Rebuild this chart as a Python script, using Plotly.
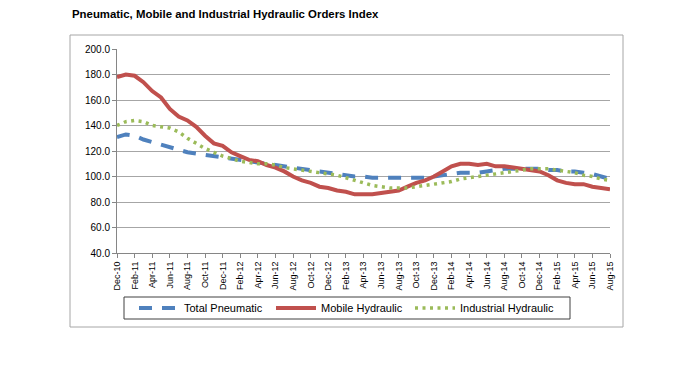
import plotly.graph_objects as go

mnames = ["Jan", "Feb", "Mar", "Apr", "May", "Jun", "Jul", "Aug", "Sep", "Oct", "Nov", "Dec"]
months = ["Dec-10"] + [f"{m}-{yr}" for yr in range(11, 16) for m in mnames]
months = months[:57]

total_pneumatic = [131, 133, 132, 129, 127, 125, 123, 121, 119, 118, 117, 116, 115,
                   114, 113, 112, 111, 110, 109, 108, 107, 106, 105, 104, 103,
                   102, 101, 100, 100, 99, 99, 99, 99, 99, 99, 99, 100,
                   101, 102, 103, 103, 103, 104, 105, 106, 106, 106, 106, 106,
                   105, 105, 104, 104, 103, 102, 100, 98]
mobile_hydraulic = [178, 180, 179, 174, 167, 162, 153, 147, 144, 139, 132, 126, 124,
                    119, 116, 113, 112, 109, 107, 104, 100, 97, 95, 92, 91,
                    89, 88, 86, 86, 86, 87, 88, 89, 92, 95, 97, 100,
                    104, 108, 110, 110, 109, 110, 108, 108, 107, 106, 105, 104,
                    101, 97, 95, 94, 94, 92, 91, 90]
industrial_hydraulic = [140, 143, 144, 143, 140, 139, 138, 135, 130, 126, 122, 119, 116,
                        114, 112, 111, 110, 110, 109, 107, 106, 105, 104, 103, 102,
                        101, 99, 97, 95, 93, 92, 91, 91, 91, 92, 93, 94,
                        95, 96, 98, 99, 100, 101, 102, 103, 104, 105, 106, 106,
                        106, 105, 104, 103, 101, 100, 98, 97]
tick_labels = months[::2]

# page body has an 8px margin; work in screen pixels and subtract it
OFF = 8
FW, FH = 700 - OFF, 365 - OFF
L, R, T, B = 117 - OFF, 610 - OFF, 49 - OFF, 253 - OFF
W, H = R - L, B - T
def px(x):
    return (x - OFF - L) / W
def py(y):
    return (B - (y - OFF)) / H

fig = go.Figure()
fig.add_trace(go.Scatter(x=months, y=total_pneumatic, name="Total Pneumatic", mode="lines",
                         legend="legend",
                         line=dict(color="#4F81BD", width=4, dash="13px,10px")))
fig.add_trace(go.Scatter(x=months, y=mobile_hydraulic, name="Mobile Hydraulic", mode="lines",
                         legend="legend2",
                         line=dict(color="#C0504D", width=4)))
fig.add_trace(go.Scatter(x=months, y=industrial_hydraulic, name="Industrial Hydraulic", mode="lines",
                         legend="legend3",
                         line=dict(color="#9BBB59", width=3.5, dash="3px,4.5px")))

# outer chart frame
fig.add_shape(type="rect", xref="paper", yref="paper",
              x0=px(70), x1=px(623), y0=py(327), y1=py(35),
              line=dict(color="#A6A6A6", width=1), layer="below")
# legend frame
fig.add_shape(type="rect", xref="paper", yref="paper",
              x0=px(124), x1=px(570), y0=py(319), y1=py(297),
              line=dict(color="#404040", width=1), layer="below")

def leg(text_x):
    return dict(orientation="h", x=px(text_x - 51), xanchor="left", y=py(308), yanchor="middle",
                borderwidth=0, bgcolor="rgba(0,0,0,0)",
                font=dict(size=11, color="#000000"), itemwidth=40)

fig.update_layout(
    width=FW, height=FH,
    margin=dict(l=L, r=FW - R, t=T, b=FH - B, pad=0),
    paper_bgcolor="white", plot_bgcolor="white",
    font=dict(family="Liberation Sans, Arial", size=11, color="#000000"),
    title=dict(text="<b>Pneumatic, Mobile and Industrial Hydraulic Orders Index</b>",
               x=(72 - OFF) / FW, xanchor="left", y=1 - 2.5 / FH, yanchor="top",
               font=dict(size=11.4, color="#000000")),
    showlegend=True,
    legend=leg(185), legend2=leg(322), legend3=leg(461),
    xaxis=dict(type="category", categoryorder="array", categoryarray=months,
               range=[0, 56], tickvals=tick_labels, ticktext=tick_labels,
               tickangle=-90, ticks="outside", ticklen=4, tickcolor="#868686",
               showline=True, linecolor="#868686", linewidth=1,
               showgrid=False, tickfont=dict(size=9, color="#000000"),
               automargin=False),
    yaxis=dict(range=[40, 200], tickvals=list(range(40, 201, 20)), tickformat=".1f",
               ticks="outside", ticklen=4, tickcolor="#868686",
               showline=True, linecolor="#868686", linewidth=1,
               showgrid=True, gridcolor="#A6A6A6", gridwidth=1,
               zeroline=False, tickfont=dict(size=10, color="#000000"),
               automargin=False),
)

fig.write_html("out.html")
